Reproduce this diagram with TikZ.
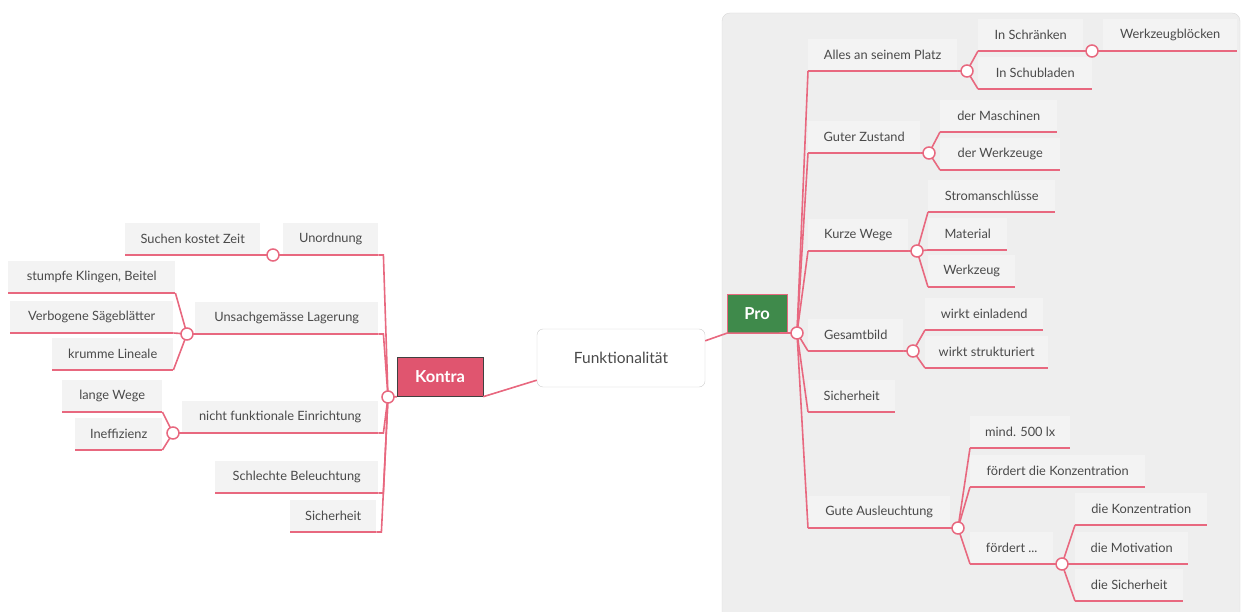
\documentclass[tikz,border=0pt]{standalone}
\usepackage{fontspec}
\setmainfont{Lato}
\definecolor{mapred}{HTML}{E8687F}
\definecolor{kontrared}{HTML}{E0556F}
\definecolor{progreen}{HTML}{3F8A4B}
\definecolor{boxgray}{HTML}{F3F3F3}
\definecolor{panelgray}{HTML}{EEEEEE}
\definecolor{textgray}{HTML}{4A4A4A}

\begin{document}
\begin{tikzpicture}[
    x=1pt, y=-1pt,
    % Style for the branch lines
    branch_line/.style={
        draw=mapred,
        line width=1.6pt
    },
    % Style for the topic labels (grey box, underlined by the branch)
    label_box/.style={
        fill=boxgray,
        minimum height=32pt,
        inner sep=0pt,
        anchor=south west,
        text=textgray,
        font=\fontsize{12.8}{15}\selectfont
    },
    % Style for the small circles where branches split
    knot/.style={
        circle, draw=mapred, fill=white,
        line width=1.5pt, minimum size=12pt, inner sep=0pt
    },
    % Style for the two main sides
    side_box/.style={
        minimum height=39pt,
        inner sep=0pt,
        text=white,
        font=\fontsize{16.5}{19}\selectfont\bfseries
    }
]
    \useasboundingbox (0,0) rectangle (1242,612);

    % 1. Grey panel behind the Pro side.
    \draw[fill=panelgray, draw=black!15, rounded corners=8pt] (722,13) rectangle (1240,650);

    % 2. Central topic and the two sides.
    \node[draw=black!20, fill=white, rounded corners=6pt, minimum width=168pt, minimum height=58pt,
          text=textgray, font=\fontsize{15.5}{18}\selectfont] (funktion) at (621,358) {Funktionalität};
    \node[side_box, fill=kontrared, draw=black!75, minimum width=86pt] (kontra) at (440,377) {Kontra};
    \node[side_box, fill=progreen, draw=mapred, minimum width=60pt] (pro) at (757,313.5) {Pro};

    \coordinate (kontra_knot) at (388,397);
    \coordinate (pro_knot) at (797,333);

    % 3. Kontra topics.
    \node[label_box, minimum width=95pt] (unordnung) at (283,255) {Unordnung};
    \node[label_box, minimum width=135pt] (suchen) at (125,255) {Suchen kostet Zeit};
    \node[label_box, minimum width=183pt] (lagerung) at (195,334) {Unsachgemässe Lagerung};
    \node[label_box, minimum width=167pt] (klingen) at (8,293) {stumpfe Klingen, Beitel};
    \node[label_box, minimum width=163pt] (saege) at (10,333) {Verbogene Sägeblätter};
    \node[label_box, minimum width=121pt] (lineale) at (52,370) {krumme Lineale};
    \node[label_box, minimum width=196pt] (einrichtung) at (182,433) {nicht funktionale Einrichtung};
    \node[label_box, minimum width=100pt] (wege_lang) at (62,412) {lange Wege};
    \node[label_box, minimum width=87pt] (ineffizienz) at (75,450) {Ineffizienz};
    \node[label_box, minimum width=163pt] (beleuchtung) at (215,493) {Schlechte Beleuchtung};
    \node[label_box, minimum width=86pt] (sicherheit_k) at (290,532) {Sicherheit};

    \coordinate (unordnung_knot) at (273,255);
    \coordinate (lagerung_knot) at (187,334);
    \coordinate (einrichtung_knot) at (173,433);

    % 4. Pro topics.
    \node[label_box, minimum width=149pt] (alles) at (808,71) {Alles an seinem Platz};
    \node[label_box, minimum width=105pt] (schraenken) at (978,51) {In Schränken};
    \node[label_box, minimum width=134pt] (werkzeugbloecke) at (1103,51) {Werkzeugblöcken};
    \node[label_box, minimum width=114pt] (schubladen) at (978,89) {In Schubladen};
    \node[label_box, minimum width=112pt] (zustand) at (808,153) {Guter Zustand};
    \node[label_box, minimum width=117pt] (maschinen) at (940,132) {der Maschinen};
    \node[label_box, minimum width=120pt] (werkzeuge) at (940,170) {der Werkzeuge};
    \node[label_box, minimum width=100pt] (kurze_wege) at (808,251) {Kurze Wege};
    \node[label_box, minimum width=127pt] (strom) at (928,212) {Stromanschlüsse};
    \node[label_box, minimum width=79pt] (material) at (928,250) {Material};
    \node[label_box, minimum width=87pt] (werkzeug) at (928,287) {Werkzeug};
    \node[label_box, minimum width=95pt] (gesamtbild) at (808,351) {Gesamtbild};
    \node[label_box, minimum width=118pt] (einladend) at (925,330) {wirkt einladend};
    \node[label_box, minimum width=123pt] (strukturiert) at (925,368) {wirkt strukturiert};
    \node[label_box, minimum width=87pt] (sicherheit_p) at (808,412) {Sicherheit};
    \node[label_box, minimum width=142pt] (ausleuchtung) at (808,528) {Gute Ausleuchtung};
    \node[label_box, minimum width=100pt] (lux) at (970,448) {mind. 500 lx};
    \node[label_box, minimum width=175pt] (konz_1) at (970,487) {fördert die Konzentration};
    \node[label_box, minimum width=83pt] (foerdert) at (970,564) {fördert ...};
    \node[label_box, minimum width=132pt] (konz_2) at (1075,525) {die Konzentration};
    \node[label_box, minimum width=113pt] (motivation) at (1075,564) {die Motivation};
    \node[label_box, minimum width=108pt] (sicherheit_2) at (1075,601) {die Sicherheit};

    \coordinate (alles_knot) at (967,71);
    \coordinate (schraenken_knot) at (1092,51);
    \coordinate (zustand_knot) at (929,153);
    \coordinate (kurze_wege_knot) at (917,251);
    \coordinate (gesamtbild_knot) at (913,351);
    \coordinate (ausleuchtung_knot) at (958,528);
    \coordinate (foerdert_knot) at (1062,564);

    % 5. Underlines of all topics.
    \foreach \n in {unordnung, suchen, lagerung, klingen, saege, lineale, einrichtung, wege_lang,
                    ineffizienz, beleuchtung, sicherheit_k, alles, schraenken, werkzeugbloecke,
                    schubladen, zustand, maschinen, werkzeuge, kurze_wege, strom, material, werkzeug,
                    gesamtbild, einladend, strukturiert, sicherheit_p, ausleuchtung, lux, konz_1,
                    foerdert, konz_2, motivation, sicherheit_2}
        \draw[branch_line] (\n.south west) -- (\n.south east);

    % 6. Branches.
    \draw[branch_line] (kontra.south east) -- ([yshift=7pt]funktion.south west);
    \draw[branch_line] ([yshift=-12pt]funktion.north east) -- (pro.south west) -- (pro_knot);
    \draw[branch_line] (kontra.south west) -- (kontra_knot);

    \foreach \n in {unordnung, lagerung, einrichtung, beleuchtung, sicherheit_k}
        \draw[branch_line] (kontra_knot) -- ([xshift=5pt]\n.south east) -- (\n.south east);
    \foreach \p/\c in {unordnung/suchen, lagerung/klingen, lagerung/saege, lagerung/lineale,
                       einrichtung/wege_lang, einrichtung/ineffizienz}
        \draw[branch_line] (\p.south west) -- (\p_knot) -- (\c.south east);

    \foreach \n in {alles, zustand, kurze_wege, gesamtbild, sicherheit_p, ausleuchtung}
        \draw[branch_line] (pro_knot) -- (\n.south west);
    \foreach \p/\c in {alles/schraenken, alles/schubladen, schraenken/werkzeugbloecke,
                       zustand/maschinen, zustand/werkzeuge, kurze_wege/strom, kurze_wege/material,
                       kurze_wege/werkzeug, gesamtbild/einladend, gesamtbild/strukturiert,
                       ausleuchtung/lux, ausleuchtung/konz_1, ausleuchtung/foerdert,
                       foerdert/konz_2, foerdert/motivation, foerdert/sicherheit_2}
        \draw[branch_line] (\p.south east) -- (\p_knot) -- (\c.south west);

    % 7. Split circles on top.
    \foreach \k in {kontra_knot, pro_knot, unordnung_knot, lagerung_knot, einrichtung_knot,
                    alles_knot, schraenken_knot, zustand_knot, kurze_wege_knot, gesamtbild_knot,
                    ausleuchtung_knot, foerdert_knot}
        \node[knot] at (\k) {};

\end{tikzpicture}
\end{document}
